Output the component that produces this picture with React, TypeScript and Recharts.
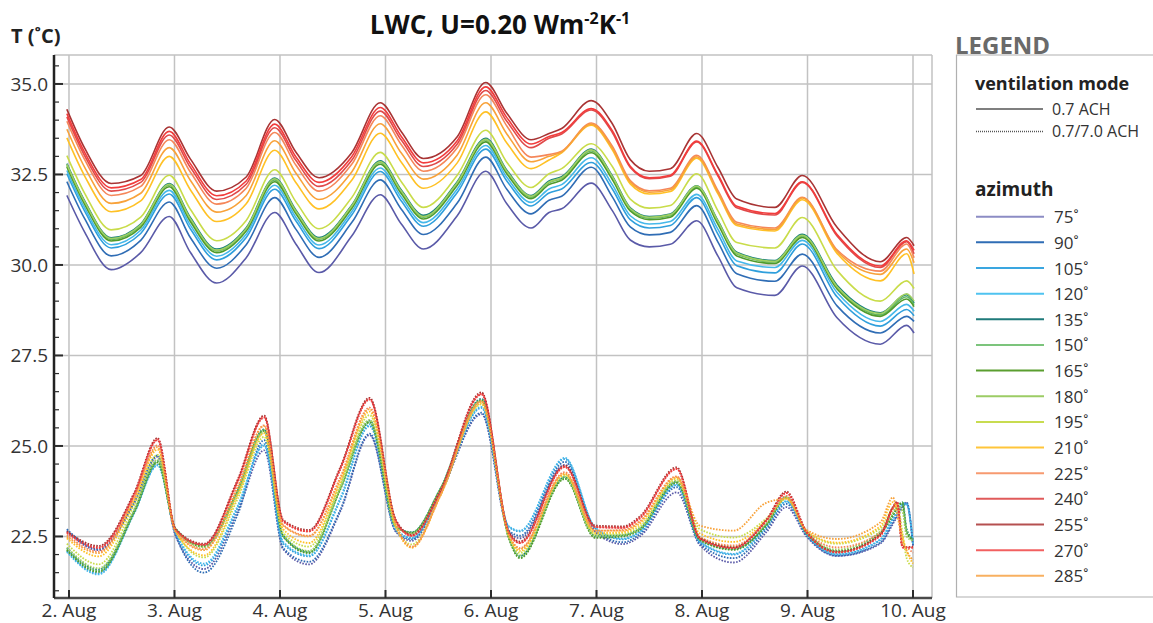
import React from 'react';
import { LineChart, Line, XAxis, YAxis, CartesianGrid } from 'recharts';

const FONT = "'Open Sans', 'DejaVu Sans', sans-serif";

const AZIMUTHS = [75, 90, 105, 120, 135, 150, 165, 180, 195, 210, 225, 240, 255, 270, 285];
const COLORS = ['#5a5aa8', '#2f6db5', '#2f9fdc', '#45b8ea', '#17807a', '#62b862', '#4f9a2a', '#a0cf60', '#c9dc4a', '#ffc125', '#f5875a', '#e04a4a', '#a83434', '#f23c3c', '#f8a23a'];
const LEGEND_COLORS = ['#8c8cc4', '#2f6db5', '#3aa6e0', '#4fc3f0', '#1f7a7a', '#7cc47c', '#5a9e2f', '#9ccc65', '#c8dc50', '#ffc53a', '#f79a70', '#e05a5a', '#b55050', '#f26060', '#f8b060'];

const X_TICKS = [2, 3, 4, 5, 6, 7, 8, 9, 10];
const X_DOMAIN = [1.858, 10.18];
const Y_DOMAIN = [20.8, 35.8];
const Y_MAJOR = [22.5, 25, 27.5, 30, 32.5, 35];
const Y_TICKS = [21, 21.5, 22, 22.5, 23, 23.5, 24, 24.5, 25, 25.5, 26, 26.5, 27, 27.5, 28, 28.5, 29, 29.5, 30, 30.5, 31, 31.5, 32, 32.5, 33, 33.5, 34, 34.5, 35, 35.5];

// 0.7 ACH (solid) – time in days of August
const S_T = [1.98, 2.15, 2.40, 2.68, 2.95, 3.15, 3.40, 3.68, 3.95, 4.15, 4.37, 4.68, 4.95, 5.15, 5.36, 5.68, 5.95, 6.15, 6.38, 6.55, 6.67, 6.95, 7.15, 7.32, 7.50, 7.70, 7.95, 8.15, 8.33, 8.69, 8.95, 9.28, 9.69, 9.94, 10.01];
const S75 = [31.92, 30.90, 29.87, 30.34, 31.34, 30.35, 29.50, 30.20, 31.45, 30.58, 29.79, 30.80, 31.94, 31.13, 30.44, 31.36, 32.59, 31.69, 31.02, 31.45, 31.55, 32.26, 31.50, 30.69, 30.50, 30.57, 31.22, 30.25, 29.37, 29.16, 29.97, 28.54, 27.81, 28.33, 28.12];
const S90 = [32.30, 31.27, 30.25, 30.68, 31.74, 30.76, 29.91, 30.56, 31.86, 30.99, 30.21, 31.17, 32.35, 31.54, 30.84, 31.71, 32.98, 32.09, 31.41, 31.79, 31.90, 32.70, 31.88, 31.05, 30.83, 30.90, 31.64, 30.64, 29.76, 29.55, 30.30, 28.87, 28.12, 28.58, 28.44];
const S105 = [32.52, 31.48, 30.47, 30.87, 31.96, 31.00, 30.14, 30.76, 32.09, 31.22, 30.45, 31.38, 32.58, 31.77, 31.07, 32.00, 33.20, 32.32, 31.63, 31.99, 32.10, 32.83, 32.10, 31.25, 31.02, 31.09, 31.86, 30.86, 29.98, 29.78, 30.58, 29.12, 28.31, 28.77, 28.60];
const S120 = [32.61, 31.57, 30.56, 30.96, 32.06, 31.10, 30.24, 30.85, 32.20, 31.32, 30.55, 31.47, 32.68, 31.87, 31.17, 32.10, 33.30, 32.42, 31.73, 32.10, 32.22, 32.96, 32.22, 31.36, 31.13, 31.20, 31.95, 30.99, 30.11, 29.93, 30.68, 29.24, 28.44, 28.91, 28.72];
const S135 = [32.80, 31.76, 30.75, 31.13, 32.25, 31.31, 30.44, 31.03, 32.40, 31.52, 30.76, 31.65, 32.88, 32.07, 31.37, 32.30, 33.50, 32.62, 31.92, 32.32, 32.44, 33.20, 32.46, 31.58, 31.34, 31.41, 32.19, 31.23, 30.35, 30.12, 30.85, 29.44, 28.68, 29.18, 28.95];
const S150 = [32.75, 31.71, 30.70, 31.09, 32.21, 31.25, 30.39, 30.98, 32.35, 31.47, 30.71, 31.61, 32.83, 32.02, 31.32, 32.25, 33.45, 32.57, 31.87, 32.27, 32.39, 33.15, 32.41, 31.53, 31.29, 31.36, 32.15, 31.18, 30.30, 30.08, 30.80, 29.39, 28.62, 29.12, 28.90];
const S165 = [32.71, 31.67, 30.66, 31.04, 32.16, 31.20, 30.34, 30.94, 32.30, 31.42, 30.66, 31.56, 32.78, 31.97, 31.27, 32.20, 33.40, 32.52, 31.83, 32.22, 32.34, 33.10, 32.36, 31.49, 31.25, 31.32, 32.12, 31.13, 30.25, 30.04, 30.76, 29.34, 28.58, 29.06, 28.85];
const S180 = [32.78, 31.74, 30.73, 31.11, 32.23, 31.28, 30.41, 31.00, 32.38, 31.49, 30.73, 31.63, 32.85, 32.04, 31.34, 32.27, 33.47, 32.59, 31.90, 32.29, 32.41, 33.18, 32.44, 31.56, 31.32, 31.39, 32.18, 31.21, 30.33, 30.10, 30.82, 29.40, 28.66, 29.20, 29.00];
const S195 = [33.02, 31.97, 30.97, 31.32, 32.48, 31.54, 30.67, 31.23, 32.63, 31.75, 31.00, 31.86, 33.11, 32.30, 31.59, 32.48, 33.72, 32.84, 32.14, 32.52, 32.66, 33.35, 32.72, 31.82, 31.57, 31.64, 32.52, 31.50, 30.62, 30.47, 31.31, 29.85, 29.00, 29.56, 29.35];
const S210 = [33.51, 32.45, 31.47, 31.77, 33.00, 32.08, 31.20, 31.69, 33.17, 32.28, 31.55, 32.34, 33.64, 32.84, 32.12, 32.82, 34.23, 33.37, 32.66, 32.90, 33.10, 33.86, 33.18, 32.24, 31.96, 32.03, 32.95, 31.97, 31.09, 30.94, 31.80, 30.32, 29.56, 30.31, 29.75];
const S225 = [33.97, 32.90, 31.92, 32.17, 33.46, 32.57, 31.68, 32.12, 33.66, 32.76, 32.04, 32.78, 34.12, 33.32, 32.59, 33.24, 34.70, 33.84, 32.98, 33.05, 33.14, 33.92, 33.28, 32.33, 32.05, 32.12, 33.03, 32.06, 31.18, 31.02, 31.87, 30.42, 29.83, 30.58, 30.20];
const S240 = [34.09, 33.01, 32.04, 32.28, 33.59, 32.70, 31.81, 32.23, 33.79, 32.89, 32.17, 32.89, 34.25, 33.45, 32.72, 33.34, 34.82, 33.97, 33.24, 33.50, 33.62, 34.28, 33.66, 32.69, 32.38, 32.45, 33.40, 32.46, 31.58, 31.38, 32.28, 30.80, 29.93, 30.64, 30.31];
const S255 = [34.30, 33.22, 32.25, 32.47, 33.81, 32.93, 32.04, 32.43, 34.02, 33.12, 32.41, 33.10, 34.48, 33.68, 32.94, 33.54, 35.04, 34.19, 33.46, 33.63, 33.77, 34.54, 33.90, 32.91, 32.59, 32.66, 33.63, 32.70, 31.82, 31.59, 32.47, 31.04, 30.09, 30.76, 30.53];
const S270 = [34.18, 33.10, 32.13, 32.36, 33.69, 32.80, 31.91, 32.32, 33.89, 32.99, 32.28, 32.99, 34.35, 33.55, 32.82, 33.43, 34.92, 34.07, 33.34, 33.55, 33.66, 34.32, 33.71, 32.73, 32.41, 32.48, 33.42, 32.50, 31.62, 31.42, 32.30, 30.84, 29.97, 30.67, 30.40];
const S285 = [33.75, 32.69, 31.70, 31.98, 33.24, 32.34, 31.46, 31.92, 33.43, 32.54, 31.81, 32.57, 33.90, 33.09, 32.37, 33.04, 34.48, 33.62, 32.85, 33.00, 33.12, 33.89, 33.23, 32.29, 32.01, 32.08, 32.99, 32.01, 31.13, 30.98, 31.85, 30.38, 29.74, 30.44, 30.06];

// 0.7/7.0 ACH (dotted)
const D_T = [1.98, 2.28, 2.62, 2.84, 3.01, 3.28, 3.60, 3.85, 4.03, 4.275, 4.57, 4.85, 5.10, 5.25, 5.52, 5.91, 6.17, 6.275, 6.70, 6.99, 7.25, 7.41, 7.76, 7.98, 8.30, 8.61, 8.80, 8.99, 9.28, 9.69, 9.81, 9.85, 9.90, 9.94, 10.00];
const D75 = [22.66, 22.12, 23.42, 24.70, 22.52, 21.60, 23.20, 24.88, 22.15, 21.73, 23.18, 25.30, 22.62, 22.38, 23.68, 25.88, 22.62, 22.45, 24.48, 22.62, 22.29, 22.50, 23.72, 22.26, 21.78, 22.62, 23.31, 22.50, 21.96, 22.30, 22.85, 23.05, 23.30, 23.42, 22.24];
const D90 = [22.70, 22.15, 23.45, 24.74, 22.55, 21.50, 23.12, 25.16, 22.18, 21.80, 23.22, 25.34, 22.64, 22.42, 23.70, 25.92, 22.66, 22.52, 24.56, 22.66, 22.34, 22.56, 23.86, 22.30, 21.90, 22.70, 23.40, 22.54, 21.97, 22.33, 22.90, 23.10, 23.35, 23.44, 22.26];
const D105 = [22.10, 21.48, 23.17, 24.48, 22.60, 21.70, 23.30, 25.05, 22.30, 21.95, 23.50, 25.55, 22.68, 22.45, 23.72, 26.05, 22.76, 22.64, 24.64, 22.72, 22.42, 22.62, 23.92, 22.34, 22.00, 22.76, 23.46, 22.56, 22.00, 22.40, 22.98, 23.15, 23.38, 23.40, 22.30];
const D120 = [22.07, 21.45, 23.15, 24.46, 22.62, 21.75, 23.35, 25.00, 22.35, 21.98, 23.55, 25.60, 22.70, 22.46, 23.73, 26.08, 22.78, 22.66, 24.67, 22.74, 22.44, 22.64, 23.94, 22.36, 22.02, 22.78, 23.48, 22.58, 22.02, 22.42, 23.00, 23.18, 23.40, 23.38, 22.32];
const D135 = [22.18, 21.58, 23.22, 24.58, 22.72, 22.25, 23.78, 25.46, 22.52, 22.08, 23.83, 25.70, 22.78, 22.62, 23.82, 26.30, 22.50, 21.96, 24.14, 22.52, 22.54, 22.72, 24.02, 22.42, 22.16, 22.84, 23.60, 22.60, 22.10, 22.60, 23.10, 23.30, 23.44, 22.70, 22.43];
const D150 = [22.14, 21.55, 23.20, 24.56, 22.72, 22.24, 23.76, 25.44, 22.52, 22.06, 23.81, 25.67, 22.78, 22.61, 23.81, 26.27, 22.46, 21.92, 24.11, 22.48, 22.52, 22.70, 24.00, 22.40, 22.15, 22.82, 23.58, 22.60, 22.10, 22.61, 23.12, 23.32, 23.44, 22.65, 22.42];
const D165 = [22.12, 21.52, 23.18, 24.54, 22.70, 22.22, 23.74, 25.42, 22.50, 22.04, 23.79, 25.65, 22.76, 22.60, 23.80, 26.25, 22.44, 21.90, 24.09, 22.46, 22.50, 22.68, 23.98, 22.40, 22.13, 22.80, 23.56, 22.60, 22.08, 22.58, 23.08, 23.28, 23.42, 22.60, 22.40];
const D180 = [22.20, 21.62, 23.25, 24.62, 22.70, 22.20, 23.70, 25.38, 22.55, 22.10, 23.85, 25.72, 22.76, 22.58, 23.78, 26.24, 22.50, 21.98, 24.15, 22.52, 22.54, 22.72, 24.04, 22.48, 22.22, 22.86, 23.58, 22.62, 22.14, 22.64, 23.15, 23.35, 23.20, 22.50, 22.38];
const D195 = [22.30, 21.73, 23.38, 24.75, 22.66, 21.92, 23.55, 25.25, 22.60, 22.22, 23.92, 25.85, 22.75, 22.28, 23.65, 26.15, 22.50, 22.05, 24.20, 22.56, 22.58, 22.78, 24.08, 22.70, 22.47, 23.00, 23.56, 22.64, 22.30, 22.72, 23.30, 23.40, 22.60, 21.90, 21.64];
const D210 = [22.45, 21.95, 23.50, 24.90, 22.64, 21.98, 23.65, 25.35, 22.70, 22.32, 24.00, 25.95, 22.76, 22.19, 23.62, 26.18, 22.52, 22.10, 24.22, 22.60, 22.62, 22.85, 24.12, 22.58, 22.35, 22.95, 23.55, 22.66, 22.33, 22.78, 23.45, 23.30, 22.50, 22.10, 21.75];
const D225 = [22.55, 22.08, 23.60, 25.02, 22.66, 22.15, 23.88, 25.57, 22.82, 22.52, 24.12, 26.06, 22.82, 22.22, 23.64, 26.24, 22.55, 22.18, 24.28, 22.66, 22.68, 22.92, 24.16, 22.48, 22.25, 22.92, 23.62, 22.64, 22.20, 22.60, 23.25, 23.38, 22.30, 22.20, 22.05];
const D240 = [22.62, 22.20, 23.68, 25.16, 22.68, 22.27, 24.02, 25.78, 22.92, 22.64, 24.34, 26.28, 22.90, 22.52, 23.74, 26.42, 22.60, 22.32, 24.42, 22.76, 22.74, 23.00, 24.36, 22.44, 22.18, 22.94, 23.70, 22.62, 22.06, 22.52, 23.30, 23.44, 22.20, 22.19, 22.19];
const D255 = [22.64, 22.24, 23.72, 25.22, 22.70, 22.30, 24.08, 25.84, 22.96, 22.68, 24.40, 26.33, 22.95, 22.55, 23.76, 26.48, 22.62, 22.36, 24.46, 22.80, 22.78, 23.05, 24.41, 22.46, 22.20, 22.96, 23.74, 22.64, 22.08, 22.55, 23.32, 23.46, 22.22, 22.20, 22.22];
const D270 = [22.60, 22.18, 23.66, 25.18, 22.68, 22.27, 24.04, 25.80, 22.92, 22.64, 24.36, 26.29, 22.92, 22.52, 23.74, 26.44, 22.60, 22.32, 24.42, 22.76, 22.74, 23.01, 24.37, 22.44, 22.18, 22.94, 23.70, 22.62, 22.06, 22.52, 23.30, 23.44, 22.20, 22.19, 22.19];
const D285 = [22.50, 22.04, 23.56, 24.97, 22.64, 22.12, 23.85, 25.55, 22.80, 22.50, 24.08, 26.02, 22.82, 22.20, 23.63, 26.22, 22.55, 22.15, 24.24, 22.66, 22.66, 22.90, 24.14, 22.80, 22.66, 23.43, 23.54, 22.68, 22.43, 22.89, 23.58, 23.10, 22.40, 22.10, 21.85];

const SOLID = [S75, S90, S105, S120, S135, S150, S165, S180, S195, S210, S225, S240, S255, S270, S285];
const DOTTED = [D75, D90, D105, D120, D135, D150, D165, D180, D195, D210, D225, D240, D255, D270, D285];

const buildRows = (times: number[], series: number[][]) =>
  times.map((t, i) => {
    const row: Record<string, number> = { t };
    AZIMUTHS.forEach((a, k) => {
      row['a' + a] = series[k][i];
    });
    return row;
  });

const solidRows = buildRows(S_T, SOLID);
const dottedRows = buildRows(D_T, DOTTED);

const Y_TICK_MARGIN = 6;

const YTick = (props: any) => {
  const { x, y, payload } = props;
  const v = payload.value as number;
  const major = Y_MAJOR.includes(v);
  const ax = x + Y_TICK_MARGIN;
  return (
    <g>
      <line x1={ax} x2={ax + (major ? 9 : 5)} y1={y} y2={y} stroke="#2b2b2b" strokeWidth={major ? 2 : 1.2} />
      {major && (
        <text x={ax - 6} y={y} dy="0.36em" textAnchor="end" fontSize={19} fill="#333" fontFamily={FONT}>
          {v.toFixed(1)}
        </text>
      )}
    </g>
  );
};

const LEGEND_TOP = 216.7;
const LEGEND_STEP = 25.65;

export default function App() {
  return (
    <div style={{ position: 'absolute', left: 0, top: 0, width: 1153, height: 623, background: '#fff', fontFamily: FONT }}>
      <LineChart width={1153} height={623} margin={{ top: 55, right: 221, bottom: 0, left: 0 }}>
        <CartesianGrid
          stroke="#c2c2c2"
          strokeWidth={1.5}
          horizontalValues={[...Y_MAJOR, Y_DOMAIN[1]]}
          verticalValues={[...X_TICKS, X_DOMAIN[1]]}
        />
        <XAxis
          dataKey="t"
          type="number"
          domain={X_DOMAIN}
          allowDataOverflow
          ticks={X_TICKS}
          interval={0}
          height={25}
          tickSize={-8}
          tickMargin={14}
          tickFormatter={(d: number) => `${d}. Aug`}
          axisLine={{ stroke: '#4a4a4a', strokeWidth: 2.5 }}
          tickLine={{ stroke: '#2b2b2b', strokeWidth: 2 }}
          tick={{ fontSize: 19, fill: '#333', fontFamily: FONT }}
        />
        <YAxis
          type="number"
          domain={Y_DOMAIN}
          allowDataOverflow
          ticks={Y_TICKS}
          interval={0}
          width={54}
          tickSize={0}
          tickMargin={Y_TICK_MARGIN}
          tickLine={false}
          axisLine={{ stroke: '#222', strokeWidth: 2.5 }}
          tick={<YTick />}
        />
        {AZIMUTHS.map((a, k) => (
          <Line
            key={'d' + a}
            data={dottedRows}
            dataKey={'a' + a}
            type="monotone"
            stroke={COLORS[k]}
            strokeWidth={1.8}
            strokeDasharray="1.6 1.4"
            dot={false}
            activeDot={false}
            isAnimationActive={false}
          />
        ))}
        {AZIMUTHS.map((a, k) => (
          <Line
            key={'s' + a}
            data={solidRows}
            dataKey={'a' + a}
            type="monotone"
            stroke={COLORS[k]}
            strokeWidth={1.6}
            dot={false}
            activeDot={false}
            isAnimationActive={false}
          />
        ))}
      </LineChart>
      <svg width={1153} height={623} style={{ position: 'absolute', left: 0, top: 0, pointerEvents: 'none' }} fontFamily={FONT}>
        <text x={500} y={34} textAnchor="middle" fontSize={26} fontWeight="bold" fill="#111">
          LWC, U=0.20 Wm
          <tspan dy={-10} fontSize={16}>-2</tspan>
          <tspan dy={10}>K</tspan>
          <tspan dy={-10} fontSize={16}>-1</tspan>
        </text>
        <text x={11} y={43} fontSize={20} fontWeight="bold" fill="#222">T (˚C)</text>

        <text x={955} y={54} fontSize={24} fontWeight="bold" fill="#6a6a6a">LEGEND</text>
        <path d="M 1153 55 L 956.5 55 L 956.5 597 L 1153 597" fill="none" stroke="#b0b0b0" strokeWidth={1.2} />
        <text x={975} y={90} fontSize={18} fontWeight="bold" fill="#222">ventilation mode</text>
        <line x1={976} x2={1043} y1={109} y2={109} stroke="#555" strokeWidth={1.3} />
        <text x={1052} y={114.5} fontSize={16} fill="#333">0.7 ACH</text>
        <line x1={976} x2={1043} y1={131.5} y2={131.5} stroke="#555" strokeWidth={1.3} strokeDasharray="1 1" />
        <text x={1052} y={137} fontSize={16} fill="#333">0.7/7.0 ACH</text>
        <text x={975} y={196} fontSize={19} fontWeight="bold" fill="#222">azimuth</text>
        {AZIMUTHS.map((a, k) => (
          <g key={'lg' + a}>
            <line
              x1={976}
              x2={1044}
              y1={LEGEND_TOP + k * LEGEND_STEP}
              y2={LEGEND_TOP + k * LEGEND_STEP}
              stroke={LEGEND_COLORS[k]}
              strokeWidth={2}
            />
            <text x={1054} y={LEGEND_TOP + k * LEGEND_STEP + 6.5} fontSize={17} fill="#333">
              {a}˚
            </text>
          </g>
        ))}
      </svg>
    </div>
  );
}
